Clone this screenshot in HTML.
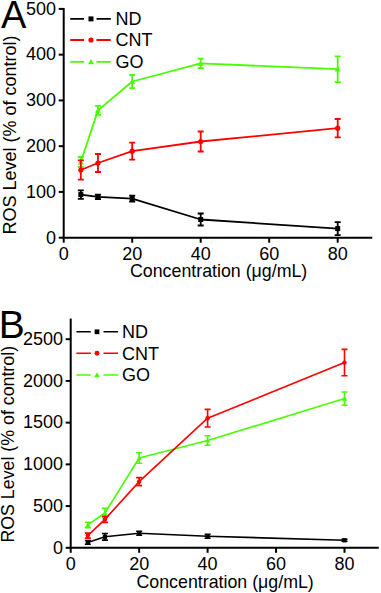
<!DOCTYPE html>
<html><head><meta charset="utf-8"><style>
html,body{margin:0;padding:0;background:#fff;}
svg{display:block;}
text{font-family:"Liberation Sans", sans-serif;font-size:18px;fill:#000;}
</style></head><body>
<svg width="381" height="593" viewBox="0 0 381 593">
<rect width="381" height="593" fill="#fff"/>
<path d="M63.7 8V237.7H372.3" fill="none" stroke="#000" stroke-width="2"/>
<path d="M58.7 237.7H63.7" stroke="#000" stroke-width="2"/>
<text x="56" y="243.5" text-anchor="end">0</text>
<path d="M58.7 191.94H63.7" stroke="#000" stroke-width="2"/>
<text x="56" y="197.74" text-anchor="end">100</text>
<path d="M58.7 146.18H63.7" stroke="#000" stroke-width="2"/>
<text x="56" y="151.98" text-anchor="end">200</text>
<path d="M58.7 100.42H63.7" stroke="#000" stroke-width="2"/>
<text x="56" y="106.22" text-anchor="end">300</text>
<path d="M58.7 54.66H63.7" stroke="#000" stroke-width="2"/>
<text x="56" y="60.46" text-anchor="end">400</text>
<path d="M58.7 8.9H63.7" stroke="#000" stroke-width="2"/>
<text x="56" y="14.7" text-anchor="end">500</text>
<path d="M63.7 237.7V242.7" stroke="#000" stroke-width="2"/>
<text x="63.7" y="259.7" text-anchor="middle">0</text>
<path d="M132.2 237.7V242.7" stroke="#000" stroke-width="2"/>
<text x="132.2" y="259.7" text-anchor="middle">20</text>
<path d="M200.7 237.7V242.7" stroke="#000" stroke-width="2"/>
<text x="200.7" y="259.7" text-anchor="middle">40</text>
<path d="M269.2 237.7V242.7" stroke="#000" stroke-width="2"/>
<text x="269.2" y="259.7" text-anchor="middle">60</text>
<path d="M337.7 237.7V242.7" stroke="#000" stroke-width="2"/>
<text x="337.7" y="259.7" text-anchor="middle">80</text>
<path d="M80.83 162L97.95 110.4L132.2 81.5L200.7 63.4L337.7 69.2" fill="none" stroke="#48ff00" stroke-width="1.8" stroke-linejoin="round"/>
<path d="M80.83 157V167M77.83 157H83.83M77.83 167H83.83" fill="none" stroke="#48ff00" stroke-width="1.8"/>
<path d="M77.83 164.4L83.83 164.4L80.83 159Z" fill="#48ff00"/>
<path d="M97.95 105.9V114.9M94.95 105.9H100.95M94.95 114.9H100.95" fill="none" stroke="#48ff00" stroke-width="1.8"/>
<path d="M94.95 112.8L100.95 112.8L97.95 107.4Z" fill="#48ff00"/>
<path d="M132.2 74.8V88.2M129.2 74.8H135.2M129.2 88.2H135.2" fill="none" stroke="#48ff00" stroke-width="1.8"/>
<path d="M129.2 83.9L135.2 83.9L132.2 78.5Z" fill="#48ff00"/>
<path d="M200.7 58.7V68.1M197.7 58.7H203.7M197.7 68.1H203.7" fill="none" stroke="#48ff00" stroke-width="1.8"/>
<path d="M197.7 65.8L203.7 65.8L200.7 60.4Z" fill="#48ff00"/>
<path d="M337.7 56.3V82.1M334.7 56.3H340.7M334.7 82.1H340.7" fill="none" stroke="#48ff00" stroke-width="1.8"/>
<path d="M334.7 71.6L340.7 71.6L337.7 66.2Z" fill="#48ff00"/>
<path d="M80.83 170L97.95 163L132.2 151.2L200.7 141.5L337.7 128.2" fill="none" stroke="#ff0000" stroke-width="1.8" stroke-linejoin="round"/>
<path d="M80.83 160.4V179.6M77.83 160.4H83.83M77.83 179.6H83.83" fill="none" stroke="#ff0000" stroke-width="1.8"/>
<circle cx="80.83" cy="170" r="2.6" fill="#ff0000"/>
<path d="M97.95 154V172M94.95 154H100.95M94.95 172H100.95" fill="none" stroke="#ff0000" stroke-width="1.8"/>
<circle cx="97.95" cy="163" r="2.6" fill="#ff0000"/>
<path d="M132.2 142.7V159.7M129.2 142.7H135.2M129.2 159.7H135.2" fill="none" stroke="#ff0000" stroke-width="1.8"/>
<circle cx="132.2" cy="151.2" r="2.6" fill="#ff0000"/>
<path d="M200.7 131.5V151.5M197.7 131.5H203.7M197.7 151.5H203.7" fill="none" stroke="#ff0000" stroke-width="1.8"/>
<circle cx="200.7" cy="141.5" r="2.6" fill="#ff0000"/>
<path d="M337.7 119V137.4M334.7 119H340.7M334.7 137.4H340.7" fill="none" stroke="#ff0000" stroke-width="1.8"/>
<circle cx="337.7" cy="128.2" r="2.6" fill="#ff0000"/>
<path d="M80.83 194.6L97.95 196.9L132.2 198.6L200.7 219.5L337.7 228.6" fill="none" stroke="#000" stroke-width="1.8" stroke-linejoin="round"/>
<path d="M80.83 190.3V198.9M77.83 190.3H83.83M77.83 198.9H83.83" fill="none" stroke="#000" stroke-width="1.8"/>
<rect x="78.33" y="192.1" width="5" height="5" fill="#000"/>
<path d="M97.95 194.6V199.2M94.95 194.6H100.95M94.95 199.2H100.95" fill="none" stroke="#000" stroke-width="1.8"/>
<rect x="95.45" y="194.4" width="5" height="5" fill="#000"/>
<path d="M132.2 195.6V201.6M129.2 195.6H135.2M129.2 201.6H135.2" fill="none" stroke="#000" stroke-width="1.8"/>
<rect x="129.7" y="196.1" width="5" height="5" fill="#000"/>
<path d="M200.7 213.5V225.5M197.7 213.5H203.7M197.7 225.5H203.7" fill="none" stroke="#000" stroke-width="1.8"/>
<rect x="198.2" y="217" width="5" height="5" fill="#000"/>
<path d="M337.7 222.1V235.1M334.7 222.1H340.7M334.7 235.1H340.7" fill="none" stroke="#000" stroke-width="1.8"/>
<rect x="335.2" y="226.1" width="5" height="5" fill="#000"/>
<path d="M70.2 18.9H84M96.5 18.9H110.8" stroke="#000" stroke-width="1.8"/>
<rect x="88.5" y="16.4" width="5" height="5" fill="#000"/>
<text x="115.6" y="25.3">ND</text>
<path d="M70.2 40H84M96.5 40H110.8" stroke="#ff0000" stroke-width="1.8"/>
<circle cx="91" cy="40" r="2.6" fill="#ff0000"/>
<text x="115.6" y="46.4">CNT</text>
<path d="M70.2 61.9H84M96.5 61.9H110.8" stroke="#48ff00" stroke-width="1.8"/>
<path d="M88 64.3L94 64.3L91 58.9Z" fill="#48ff00"/>
<text x="115.6" y="68.3">GO</text>
<text x="1" y="28" style="font-size:38px">A</text>
<text x="130" y="276.8" style="font-size:17.8px">Concentration (&#956;g/mL)</text>
<text transform="translate(15.9 234.6) rotate(-90)" x="0" y="0" style="font-size:18px">ROS Level (% of control)</text>
<path d="M70.7 318.5V547.8H378.8" fill="none" stroke="#000" stroke-width="2"/>
<path d="M65.7 547.8H70.7" stroke="#000" stroke-width="2"/>
<text x="63" y="553.6" text-anchor="end">0</text>
<path d="M65.7 506.08H70.7" stroke="#000" stroke-width="2"/>
<text x="63" y="511.88" text-anchor="end">500</text>
<path d="M65.7 464.36H70.7" stroke="#000" stroke-width="2"/>
<text x="63" y="470.16" text-anchor="end">1000</text>
<path d="M65.7 422.64H70.7" stroke="#000" stroke-width="2"/>
<text x="63" y="428.44" text-anchor="end">1500</text>
<path d="M65.7 380.92H70.7" stroke="#000" stroke-width="2"/>
<text x="63" y="386.72" text-anchor="end">2000</text>
<path d="M65.7 339.2H70.7" stroke="#000" stroke-width="2"/>
<text x="63" y="345" text-anchor="end">2500</text>
<path d="M70.7 547.8V552.8" stroke="#000" stroke-width="2"/>
<text x="70.7" y="569.5" text-anchor="middle">0</text>
<path d="M139.15 547.8V552.8" stroke="#000" stroke-width="2"/>
<text x="139.15" y="569.5" text-anchor="middle">20</text>
<path d="M207.6 547.8V552.8" stroke="#000" stroke-width="2"/>
<text x="207.6" y="569.5" text-anchor="middle">40</text>
<path d="M276.05 547.8V552.8" stroke="#000" stroke-width="2"/>
<text x="276.05" y="569.5" text-anchor="middle">60</text>
<path d="M344.5 547.8V552.8" stroke="#000" stroke-width="2"/>
<text x="344.5" y="569.5" text-anchor="middle">80</text>
<path d="M87.81 524.9L104.93 513L139.15 458L207.6 440.5L344.5 398.6" fill="none" stroke="#48ff00" stroke-width="1.6" stroke-linejoin="round"/>
<path d="M87.81 522.2V527.6M84.81 522.2H90.81M84.81 527.6H90.81" fill="none" stroke="#48ff00" stroke-width="1.6"/>
<path d="M85.26 526.94L90.36 526.94L87.81 522.35Z" fill="#48ff00"/>
<path d="M104.93 508.4V517.6M101.93 508.4H107.93M101.93 517.6H107.93" fill="none" stroke="#48ff00" stroke-width="1.6"/>
<path d="M102.38 515.04L107.48 515.04L104.93 510.45Z" fill="#48ff00"/>
<path d="M139.15 452.7V463.3M136.15 452.7H142.15M136.15 463.3H142.15" fill="none" stroke="#48ff00" stroke-width="1.6"/>
<path d="M136.6 460.04L141.7 460.04L139.15 455.45Z" fill="#48ff00"/>
<path d="M207.6 435.8V445.2M204.6 435.8H210.6M204.6 445.2H210.6" fill="none" stroke="#48ff00" stroke-width="1.6"/>
<path d="M205.05 442.54L210.15 442.54L207.6 437.95Z" fill="#48ff00"/>
<path d="M344.5 392V405.2M341.5 392H347.5M341.5 405.2H347.5" fill="none" stroke="#48ff00" stroke-width="1.6"/>
<path d="M341.95 400.64L347.05 400.64L344.5 396.05Z" fill="#48ff00"/>
<path d="M87.81 535.6L104.93 519.4L139.15 481.6L207.6 418.2L344.5 362.6" fill="none" stroke="#ff0000" stroke-width="1.6" stroke-linejoin="round"/>
<path d="M87.81 533.1V538.1M84.81 533.1H90.81M84.81 538.1H90.81" fill="none" stroke="#ff0000" stroke-width="1.6"/>
<circle cx="87.81" cy="535.6" r="2.21" fill="#ff0000"/>
<path d="M104.93 516.4V522.4M101.93 516.4H107.93M101.93 522.4H107.93" fill="none" stroke="#ff0000" stroke-width="1.6"/>
<circle cx="104.93" cy="519.4" r="2.21" fill="#ff0000"/>
<path d="M139.15 477.6V485.6M136.15 477.6H142.15M136.15 485.6H142.15" fill="none" stroke="#ff0000" stroke-width="1.6"/>
<circle cx="139.15" cy="481.6" r="2.21" fill="#ff0000"/>
<path d="M207.6 409.4V427M204.6 409.4H210.6M204.6 427H210.6" fill="none" stroke="#ff0000" stroke-width="1.6"/>
<circle cx="207.6" cy="418.2" r="2.21" fill="#ff0000"/>
<path d="M344.5 349.4V375.8M341.5 349.4H347.5M341.5 375.8H347.5" fill="none" stroke="#ff0000" stroke-width="1.6"/>
<circle cx="344.5" cy="362.6" r="2.21" fill="#ff0000"/>
<path d="M87.81 542.4L104.93 536.8L139.15 533.2L207.6 536.2L344.5 540.3" fill="none" stroke="#000" stroke-width="1.6" stroke-linejoin="round"/>
<path d="M87.81 540.5V544.3M84.81 540.5H90.81M84.81 544.3H90.81" fill="none" stroke="#000" stroke-width="1.6"/>
<rect x="85.69" y="540.27" width="4.25" height="4.25" fill="#000"/>
<path d="M104.93 533.5V540.1M101.93 533.5H107.93M101.93 540.1H107.93" fill="none" stroke="#000" stroke-width="1.6"/>
<rect x="102.8" y="534.67" width="4.25" height="4.25" fill="#000"/>
<path d="M139.15 531.2V535.2M136.15 531.2H142.15M136.15 535.2H142.15" fill="none" stroke="#000" stroke-width="1.6"/>
<rect x="137.03" y="531.08" width="4.25" height="4.25" fill="#000"/>
<path d="M207.6 534.2V538.2M204.6 534.2H210.6M204.6 538.2H210.6" fill="none" stroke="#000" stroke-width="1.6"/>
<rect x="205.48" y="534.08" width="4.25" height="4.25" fill="#000"/>
<path d="M344.5 539.3V541.3M341.5 539.3H347.5M341.5 541.3H347.5" fill="none" stroke="#000" stroke-width="1.6"/>
<rect x="342.38" y="538.17" width="4.25" height="4.25" fill="#000"/>
<path d="M76.4 331.8H90.8M103.5 331.8H118" stroke="#000" stroke-width="1.6"/>
<rect x="94.62" y="329.43" width="4.75" height="4.75" fill="#000"/>
<text x="122" y="338.2">ND</text>
<path d="M76.4 353.3H90.8M103.5 353.3H118" stroke="#ff0000" stroke-width="1.6"/>
<circle cx="97" cy="353.3" r="2.47" fill="#ff0000"/>
<text x="122" y="359.7">CNT</text>
<path d="M76.4 375H90.8M103.5 375H118" stroke="#48ff00" stroke-width="1.6"/>
<path d="M94.15 377.28L99.85 377.28L97 372.15Z" fill="#48ff00"/>
<text x="122" y="381.4">GO</text>
<text x="-1.2" y="338" style="font-size:39px">B</text>
<text x="136.5" y="588.3" style="font-size:17.8px">Concentration (&#956;g/mL)</text>
<text transform="translate(14.2 542.6) rotate(-90)" x="0" y="0" style="font-size:17.8px">ROS Level (% of control)</text>
</svg>
</body></html>
